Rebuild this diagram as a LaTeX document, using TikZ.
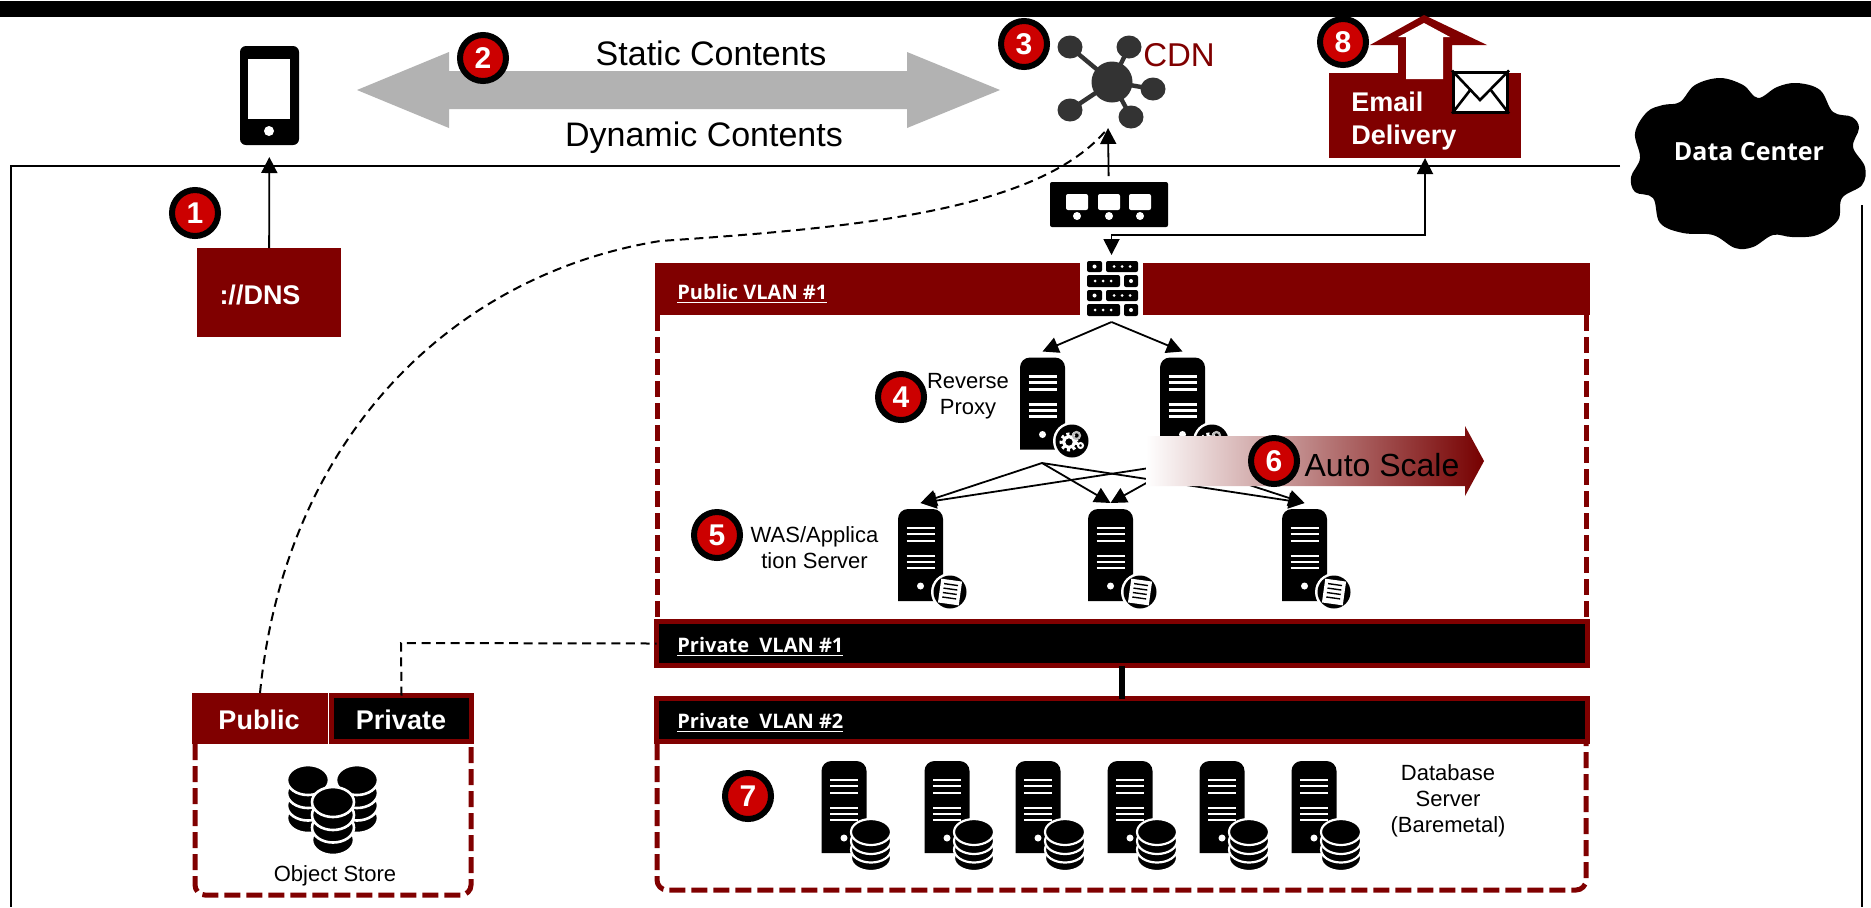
\documentclass[tikz,border=0pt]{standalone}
\usepackage{fontspec}
\setmainfont{Liberation Sans}
\newfontfamily\vlanfont{Open Sans}
\usepackage{tikz}
\usetikzlibrary{arrows.meta}
\definecolor{darkred}{HTML}{800000}
\definecolor{stepred}{HTML}{CC0000}
\definecolor{arrowgray}{HTML}{B2B2B2}
\definecolor{hubgray}{HTML}{333333}
\tikzset{
  link/.style={line width=0.9pt,-{Triangle[length=8pt,width=8pt]}},
  dashlink/.style={line width=1pt,dash pattern=on 4.5pt off 2.8pt},
  dashbox/.style={line width=2.5pt,color=darkred,dash pattern=on 8pt off 3pt,rounded corners=5pt},
  redbox/.style={fill=darkred,inner sep=0pt,outer sep=0pt},
  blackbar/.style={fill=black,draw=darkred,line width=2.5pt,inner sep=0pt,outer sep=0pt},
  stepmark/.style={circle,fill=stepred,draw=black,line width=3pt,minimum size=23pt,inner sep=0pt,
    text=white,font=\fontsize{15}{15}\selectfont\bfseries},
  bigtext/.style={font=\fontsize{17}{20}\selectfont},
  smalltext/.style={align=center,font=\fontsize{11}{13}\selectfont},
  boldtext/.style={text=white,align=left,font=\fontsize{13.5}{16.5}\selectfont\bfseries},
  vlantext/.style={anchor=west,text=white,inner sep=0pt,font=\vlanfont\fontsize{10}{12}\selectfont\bfseries},
  servernode/.style={minimum width=22.5pt,minimum height=46pt,inner sep=0pt,outer ysep=3pt},
  pics/serverbody/.style={code={
    \fill[black,rounded corners=5pt] (-22.5,0) -- (-22.5,-46) -- (22.5,-46) -- (22.5,0)
      [sharp corners] -- (22.5,46) -- (-22.5,46) -- cycle;
    \foreach \rowy in {-27,-21,-14,1,7,13}
      \draw[white,line width=1.2pt] (-14,\rowy) -- (14,\rowy);
    \fill[white] (0,31) circle (3.5);
  }},
  pics/gearbadge/.style={code={
    \fill[white] (29.5,37.5) circle (19);
    \fill[black] (29.5,37.5) circle (16.5);
    \draw[white,line width=1.6pt] (26.5,38.5) circle (5.5);
    \draw[white,line width=1.5pt,dash pattern=on 1.5pt off 1.4pt] (26.5,38.5) circle (8);
    \draw[white!75!black,line width=1.1pt] (34,32) circle (3.5);
    \draw[white,line width=1pt] (38,42) circle (2.5);
  }},
  pics/docbadge/.style={code={
    \fill[white] (29.5,37) circle (19);
    \fill[black] (29.5,37) circle (16.5);
    \begin{scope}[shift={(29.5,37)},rotate=-8]
      \fill[white] (-10.5,-12) rectangle (10.5,12);
      \foreach \rowy in {-7.5,-3,1.5,6}
        \draw[black,line width=0.7pt] (-7,\rowy) -- (7,\rowy);
    \end{scope}
  }},
  pics/dbbadge/.style={code={
    \foreach \rowy in {51,42.5,34,25}
      \draw[white,fill=black,line width=1.1pt] (27,\rowy) ellipse [x radius=20,y radius=13];
  }},
  pics/dbstack/.style={code={
    \foreach \rowy in {38,25.5,13,0}
      \draw[white,fill=black,line width=1.3pt] (0,\rowy) ellipse [x radius=21,y radius=15];
  }},
}
\begin{document}
\begin{tikzpicture}[x=0.5pt,y=-0.5pt]
\useasboundingbox (0,0) rectangle (1871,907);
\fill[white] (0,0) rectangle (1871,907);
\fill[black] (0,1) rectangle (1871,17);
\draw[line width=0.9pt] (1620,166) -- (11,166) -- (11,907);
\draw[line width=0.9pt] (1862,205) -- (1862,907);

% data center
\fill[black] plot[smooth cycle,tension=0.6] coordinates {(1720,78) (1743,85) (1758,98) (1777,87) (1797,83)
  (1820,90) (1833,112) (1852,117) (1859,128) (1853,147) (1865,167) (1862,185) (1842,198) (1838,220)
  (1817,235) (1792,237) (1773,235) (1753,247) (1735,248) (1713,235) (1683,233) (1660,223) (1653,198)
  (1635,192) (1631,177) (1640,158) (1635,133) (1647,112) (1663,105) (1680,102) (1695,85)};
\node[text=white,font=\vlanfont\fontsize{12.5}{15}\selectfont\bfseries] (datacenterlabel) at (1749,152) {Data Center};

% phone and dns
\node[fill=black,rounded corners=3pt,minimum width=29.5pt,minimum height=49.5pt,inner sep=0pt,outer ysep=6pt] (phone) at (269.5,95.5) {};
\fill[white] (248,59) rectangle (290,119);
\fill[white] (269,131) circle (5);
\node[redbox,minimum width=72pt,minimum height=44.5pt] (dns) at (269,292.5) {};
\node[boldtext] (dnslabel) at (260,295) {://DNS};
\draw[link] (dns) -- (phone);

% static and dynamic contents
\fill[arrowgray] (357,90) -- (449,52) -- (449,71) -- (907,71) -- (907,52) -- (1000,90)
  -- (907,128) -- (907,109) -- (449,109) -- (449,128) -- cycle;
\node[bigtext] (staticlabel) at (711,53) {Static Contents};
\node[bigtext] (dynamiclabel) at (704,138) {Dynamic Contents};

% cdn
\foreach \spokex/\spokey in {1070/47,1129/47,1153/89,1070/110,1131/117} {
  \draw[hubgray,line width=2.2pt] (1112,82) -- (\spokex,\spokey);
  \fill[hubgray] (\spokex,\spokey) ellipse [x radius=12.5,y radius=11.5];
}
\node[circle,fill=hubgray,minimum size=20.5pt,inner sep=0pt] (cdn) at (1112,82) {};
\coordinate (cdnin) at (1108,128);
\node[text=darkred,font=\fontsize{16.5}{19}\selectfont] (cdnlabel) at (1179,55) {CDN};

% email delivery
\node[redbox,minimum width=96pt,minimum height=42.5pt] (email) at (1425,115.5) {};
\fill[darkred] (1424,15) -- (1487,45) -- (1452,45) -- (1452,73) -- (1398,73) -- (1398,45) -- (1370,45) -- cycle;
\fill[white] (1424,23) -- (1450,37) -- (1443,37) -- (1443,79) -- (1406,79) -- (1406,37) -- (1398,37) -- cycle;
\node[fill=white,draw=black,line width=1.5pt,minimum width=27pt,minimum height=20pt,inner sep=0pt] (envelope) at (1480.5,92) {};
\draw[line width=1.3pt] (envelope.north west) -- (1480,100) -- (envelope.north east);
\draw[line width=1.3pt] (envelope.south west) -- (1471,89);
\draw[line width=1.3pt] (envelope.south east) -- (1490,89);
\node[boldtext,anchor=west,inner sep=0pt] (emaillabel) at (1351,121) {Email\\Delivery};

% public vlan and boxes
\draw[dashbox,sharp corners] (657,315) -- (657,622);
\draw[dashbox,sharp corners] (1586,315) -- (1586,622);
\draw[dashbox] (657,744) -- (657,890) -- (1586,890) -- (1586,744);
\draw[dashbox] (195,744) -- (195,895) -- (471,895) -- (471,744);
\node[redbox,minimum width=467.5pt,minimum height=26pt] (pubvlan) at (1122.5,289) {};
\node[vlantext] (pubvlanlabel) at (677,294) {\underline{Public VLAN \#1}};
\node[blackbar,minimum width=465.5pt,minimum height=22pt] (privvlana) at (1122,643.5) {};
\node[vlantext] (privvlanalabel) at (677,647) {\underline{Private\ \ VLAN \#1}};
\node[blackbar,minimum width=465.5pt,minimum height=21.5pt] (privvlanb) at (1122,720) {};
\node[vlantext] (privvlanblabel) at (677,723) {\underline{Private\ \ VLAN \#2}};
\draw[line width=2.7pt] (privvlana) -- (privvlanb);

% firewall
\node[fill=white,minimum width=31.5pt,minimum height=28.5pt,inner sep=0pt,outer ysep=2.5pt] (firewall) at (1111.5,288.5) {};
\foreach \rowy/\smallx/\bigx in {261/1087/1106,290/1087/1106} {
  \fill[black,rounded corners=1pt] (\smallx,\rowy) rectangle +(15,11);
  \fill[black,rounded corners=1pt] (\bigx,\rowy) rectangle +(32,11);
  \fill[white] (\smallx+7.5,\rowy+5.5) circle (2);
  \foreach \dotx in {8,16,24}
    \fill[white] (\bigx+\dotx,\rowy+5.5) circle (1.5);
}
\foreach \rowy in {275,304} {
  \fill[black,rounded corners=1pt] (1087,\rowy) rectangle +(33,12);
  \fill[black,rounded corners=1pt] (1124,\rowy) rectangle +(14,12);
  \fill[white] (1131,\rowy+6) circle (2);
  \foreach \dotx in {1095,1103,1111}
    \fill[white] (\dotx,\rowy+6) circle (1.5);
}

% load balancer
\node[fill=black,rounded corners=1pt,minimum width=59pt,minimum height=22.5pt,inner sep=0pt,outer ysep=3pt] (balancer) at (1109,204.5) {};
\foreach \slotx in {1077,1109,1140} {
  \fill[white,rounded corners=1pt] (\slotx-11,194) rectangle (\slotx+11,210);
  \fill[white] (\slotx,216) circle (4);
}
\draw[link] (balancer) -- (cdnin);
\draw[line width=0.9pt,{Triangle[length=8pt,width=8pt]}-{Triangle[length=8pt,width=8pt]}] (firewall.north) -- ++(0,-20) -| (email.south);

% object store
\node[redbox,minimum width=68pt,minimum height=25.5pt] (objpublic) at (260,718.5) {};
\node[blackbar,minimum width=70pt,minimum height=23pt] (objprivate) at (401.5,718.5) {};
\node[boldtext] (objpubliclabel) at (259,720) {Public};
\node[boldtext] (objprivatelabel) at (401,720) {Private};
\foreach \stackx in {308,357}
  \pic at (\stackx,780) {dbstack};
\pic at (333,802) {dbstack};
\node[smalltext] (objlabel) at (335,876) {Object Store};
\draw[dashlink] (objprivate.north) -- (401,643) -- (privvlana.west);
\draw[dashlink] (objpublic.north) .. controls (285,440) and (450,275) .. (660,241)
  .. controls (850,228) and (1040,212) .. (cdnin);

% reverse proxy
\foreach \nodename/\nodex in {proxya/1042.5,proxyb/1182.5} {
  \node[servernode] (\nodename) at (\nodex,403.5) {};
  \pic at (\nodename) {serverbody};
  \pic at (\nodename) {gearbadge};
}
\draw[link] (firewall.south) -- (proxya.north);
\draw[link] (firewall.south) -- (proxyb.north);
\node[smalltext] (proxylabel) at (968,396.5) {Reverse\\Proxy};

% application server
\foreach \nodename/\nodex in {wasa/920.5,wasb/1110.5,wasc/1304.5} {
  \node[servernode] (\nodename) at (\nodex,555) {};
  \pic at (\nodename) {serverbody};
  \pic at (\nodename) {docbadge};
}
\coordinate (proxyaout) at (1042,463);
\coordinate (proxybout) at (1182,463);
\foreach \fromname in {proxyaout,proxybout}
  \foreach \toname in {wasa,wasb,wasc}
    \draw[link] (\fromname) -- (\toname.north);
\node[smalltext] (waslabel) at (814.5,548) {WAS/Applica\\tion Server};

% auto scale
\shade[left color=white,middle color=darkred!32!white,right color=darkred!92!black] (1146,436) -- (1465,436) -- (1465,426) -- (1484,461)
  -- (1465,496) -- (1465,486) -- (1146,486) -- cycle;
\node[font=\fontsize{16}{19}\selectfont] (scalelabel) at (1382,465) {Auto Scale};

% database
\foreach \nodename/\nodex in {dba/844,dbb/947,dbc/1038,dbd/1130,dbe/1222,dbf/1314} {
  \node[servernode] (\nodename) at (\nodex,807) {};
  \pic at (\nodename) {serverbody};
  \pic at (\nodename) {dbbadge};
}
\node[smalltext] (dblabel) at (1448,801) {Database\\Server\\(Baremetal)};

% step numbers
\node[stepmark] (stepa) at (195,213) {1};
\node[stepmark] (stepb) at (483,58) {2};
\node[stepmark] (stepc) at (1024,44) {3};
\node[stepmark] (stepd) at (901,397) {4};
\node[stepmark] (stepe) at (717,535) {5};
\node[stepmark] (stepf) at (1274,461) {6};
\node[stepmark] (stepg) at (748,796) {7};
\node[stepmark] (steph) at (1343,42) {8};
\end{tikzpicture}
\end{document}
